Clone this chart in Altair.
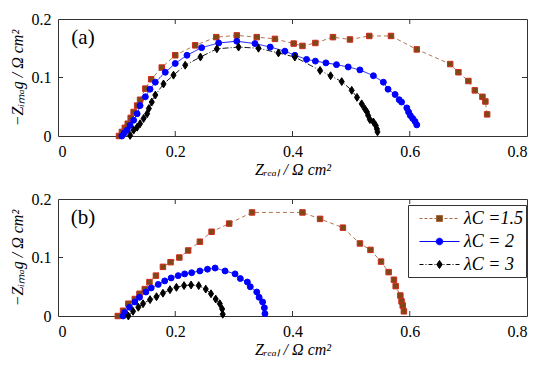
import altair as alt
import pandas as pd

# ---------------- data ----------------
series_names = ["λC =1.5", "λC = 2", "λC = 3"]

# panel (a)
a_sq_x = [0.104, 0.109, 0.114, 0.119, 0.124, 0.129, 0.135, 0.140, 0.149, 0.159, 0.177, 0.200, 0.234, 0.270, 0.305, 0.339,
          0.370, 0.402, 0.417, 0.439, 0.469, 0.498, 0.531, 0.568, 0.612, 0.669, 0.683, 0.700, 0.711, 0.724, 0.729, 0.732]
a_sq_y = [0.000, 0.007, 0.014, 0.021, 0.031, 0.041, 0.052, 0.062, 0.081, 0.097, 0.117, 0.138, 0.155, 0.169, 0.172, 0.169,
          0.166, 0.158, 0.154, 0.159, 0.169, 0.165, 0.171, 0.171, 0.148, 0.123, 0.109, 0.094, 0.078, 0.067, 0.059, 0.037]
a_ci_x = [0.109, 0.113, 0.118, 0.123, 0.129, 0.135, 0.140, 0.149, 0.157, 0.166, 0.183, 0.200, 0.220, 0.245, 0.274, 0.305,
          0.336, 0.362, 0.387, 0.404, 0.424, 0.439, 0.457, 0.475, 0.495, 0.515, 0.538, 0.555, 0.563, 0.575, 0.582, 0.586,
          0.595, 0.598, 0.601, 0.605, 0.609, 0.612]
a_ci_y = [0.000, 0.005, 0.010, 0.018, 0.027, 0.038, 0.052, 0.067, 0.080, 0.092, 0.109, 0.124, 0.138, 0.151, 0.159, 0.162,
          0.158, 0.152, 0.145, 0.138, 0.131, 0.128, 0.125, 0.122, 0.118, 0.113, 0.103, 0.092, 0.080, 0.071, 0.062, 0.058,
          0.048, 0.041, 0.035, 0.030, 0.025, 0.019]
a_di_x = [0.123, 0.129, 0.135, 0.140, 0.146, 0.152, 0.155, 0.160, 0.166, 0.180, 0.197, 0.217, 0.243, 0.271, 0.308, 0.342,
          0.376, 0.404, 0.447, 0.465, 0.484, 0.501, 0.510, 0.518, 0.523, 0.527, 0.529, 0.532, 0.538, 0.542, 0.544, 0.545]
a_di_y = [0.001, 0.010, 0.015, 0.021, 0.030, 0.038, 0.047, 0.058, 0.070, 0.089, 0.104, 0.121, 0.135, 0.149, 0.152, 0.150,
          0.142, 0.135, 0.112, 0.103, 0.093, 0.078, 0.066, 0.055, 0.047, 0.041, 0.035, 0.028, 0.024, 0.018, 0.012, 0.007]

# panel (b)
b_sq_x = [0.102, 0.111, 0.120, 0.131, 0.139, 0.148, 0.156, 0.167, 0.179, 0.192, 0.207, 0.222, 0.242, 0.262, 0.292, 0.331,
          0.417, 0.447, 0.486, 0.515, 0.533, 0.551, 0.564, 0.573, 0.576, 0.584, 0.586, 0.588, 0.590]
b_sq_y = [0.000, 0.009, 0.021, 0.029, 0.038, 0.046, 0.058, 0.069, 0.084, 0.092, 0.100, 0.112, 0.127, 0.144, 0.158, 0.177,
          0.177, 0.166, 0.151, 0.124, 0.113, 0.093, 0.075, 0.062, 0.051, 0.035, 0.025, 0.018, 0.008]
b_ci_x = [0.111, 0.114, 0.122, 0.131, 0.139, 0.150, 0.159, 0.171, 0.182, 0.193, 0.205, 0.216, 0.228, 0.242, 0.255, 0.268,
          0.285, 0.302, 0.311, 0.323, 0.328, 0.339, 0.343, 0.349, 0.352, 0.353]
b_ci_y = [0.000, 0.006, 0.015, 0.024, 0.032, 0.041, 0.048, 0.054, 0.060, 0.065, 0.069, 0.072, 0.074, 0.077, 0.080, 0.082,
          0.077, 0.072, 0.064, 0.058, 0.050, 0.041, 0.032, 0.024, 0.014, 0.004]
b_di_x = [0.120, 0.128, 0.137, 0.145, 0.157, 0.168, 0.179, 0.191, 0.202, 0.215, 0.227, 0.240, 0.252, 0.261, 0.269, 0.276,
          0.280, 0.281]
b_di_y = [0.000, 0.008, 0.015, 0.021, 0.028, 0.033, 0.039, 0.045, 0.049, 0.052, 0.053, 0.052, 0.046, 0.038, 0.029, 0.021,
          0.012, 0.003]

x_ticks = [0, 0.2, 0.4, 0.6, 0.8]
y_ticks = [0, 0.1, 0.2]
panel_labels = ["(a)", "(b)"]
x_title = "Zᵣₑₐₗ / Ω cm²"
y_title = "−Zᵢₘₐg / Ω cm²"

# ---------------- styling ----------------
FONT = "Liberation Serif"
line_colors = ["#a8673f", "#0000ff", "#000000"]
fill_colors = ["#7a4a14", "#0000ff", "#000000"]
edge_colors = ["#d02a1e", "#0000ff", "#000000"]
dashes = [[4, 3], [1, 0], [6, 2, 1, 2]]
DIAMOND = "M0,-1.25L0.8,0L0,1.25L-0.8,0Z"
point_shapes = ["square", "circle", DIAMOND]
point_sizes = [30, 40, 34]

UNIT = 10.0  # px per path unit for legend glyphs (symbolSize 400)


def seg_path(pattern, gap_half, half_len=2.0):
    """legend glyph line as dash subpaths from -half_len to half_len (units of UNIT px)"""
    parts = []
    pos = -half_len
    i = 0
    while pos < half_len:
        length = pattern[i % len(pattern)] / UNIT
        end = min(pos + length, half_len)
        if i % 2 == 0:
            a, b = pos, end
            if b <= -gap_half or a >= gap_half:
                parts.append(f"M{a:.3f},0H{b:.3f}")
            else:
                if a < -gap_half:
                    parts.append(f"M{a:.3f},0H{-gap_half:.3f}")
                if b > gap_half:
                    parts.append(f"M{gap_half:.3f},0H{b:.3f}")
        pos = end
        i += 1
    return "".join(parts)


leg_sq = seg_path([3, 2], 0.3) + "M-0.3,-0.3H0.3V0.3H-0.3Z"
leg_ci = "M-2,0H-0.33M0.33,0H2" + "M0.33,0A0.33,0.33,0,1,1,-0.33,0A0.33,0.33,0,1,1,0.33,0Z"
leg_di = seg_path([4, 2, 1, 2], 0.28) + "M0,-0.4L0.28,0L0,0.4L-0.28,0Z"
legend_shapes = [leg_sq, leg_ci, leg_di]

W, H = 469, 117


def make_df(xs_list, ys_list):
    rows = []
    for name, xs, ys in zip(series_names, xs_list, ys_list):
        for i, (xv, yv) in enumerate(zip(xs, ys)):
            rows.append({"series": name, "lg": name, "i": i, "x": xv, "y": yv})
    return pd.DataFrame(rows)


def axis(vals, title, tpad):
    return alt.Axis(
        values=vals, title=title, grid=False, domain=False, ticks=False,
        labelExpr="datum.value == 0 ? '0' : format(datum.value, '.1f')",
        labelFont=FONT, labelFontSize=16, labelColor="black", labelPadding=7,
        titleFont=FONT, titleFontSize=16, titleFontStyle="italic", titleFontWeight="normal",
        titleColor="black", titlePadding=tpad,
    )


def panel(df, label, show_legend):
    xsc = alt.Scale(domain=[0, 0.8], nice=False, zero=False)
    ysc = alt.Scale(domain=[0, 0.2], nice=False, zero=False)
    base = alt.Chart(df)
    enc_x = alt.X("x:Q", scale=xsc, axis=axis(x_ticks, x_title, 2))
    enc_y = alt.Y("y:Q", scale=ysc, axis=axis(y_ticks, y_title, 6))

    lines = base.mark_line(strokeWidth=0.9).encode(
        x=enc_x, y=enc_y, order="i:Q",
        color=alt.Color("series:N", scale=alt.Scale(domain=series_names, range=line_colors), legend=None),
        strokeDash=alt.StrokeDash("series:N", scale=alt.Scale(domain=series_names, range=dashes), legend=None),
    )
    points = base.mark_point(filled=True, opacity=1, strokeWidth=1).encode(
        x="x:Q", y="y:Q",
        shape=alt.Shape("series:N", scale=alt.Scale(domain=series_names, range=point_shapes), legend=None),
        fill=alt.Fill("series:N", scale=alt.Scale(domain=series_names, range=fill_colors), legend=None),
        stroke=alt.Stroke("series:N", scale=alt.Scale(domain=series_names, range=edge_colors), legend=None),
        size=alt.Size("series:N", scale=alt.Scale(domain=series_names, range=point_sizes), legend=None),
    )

    tick_x = pd.DataFrame({"v": x_ticks[1:-1]})
    tick_y = pd.DataFrame({"v": y_ticks[1:-1]})
    tb = alt.Chart(tick_x).mark_rule(color="#333", strokeWidth=1).encode(x="v:Q", y=alt.value(H), y2=alt.value(H - 5))
    tt = alt.Chart(tick_x).mark_rule(color="#333", strokeWidth=1).encode(x="v:Q", y=alt.value(0), y2=alt.value(5))
    tl = alt.Chart(tick_y).mark_rule(color="#333", strokeWidth=1).encode(y="v:Q", x=alt.value(0), x2=alt.value(5))
    tr = alt.Chart(tick_y).mark_rule(color="#333", strokeWidth=1).encode(y="v:Q", x=alt.value(W - 5), x2=alt.value(W))

    lab = alt.Chart(pd.DataFrame({"t": [label]})).mark_text(
        font=FONT, fontSize=21, align="center", baseline="middle", color="black"
    ).encode(text="t:N", x=alt.value(25), y=alt.value(19))

    layers = [lines, points, tb, tt, tl, tr, lab]
    if show_legend:
        lp = dict(orient="none", legendX=350, legendY=6, title=None, labelFont=FONT, labelFontSize=18,
                  labelFontStyle="italic", symbolSize=400, symbolStrokeWidth=1, symbolOpacity=1,
                  symbolOffset=18, strokeColor="#333", fillColor="white", padding=3, rowPadding=3,
                  labelOffset=14, labelLimit=200, labelColor="black")
        leg = alt.Chart(df).mark_point(opacity=0, filled=True).encode(
            x="x:Q", y="y:Q",
            shape=alt.Shape("lg:N", scale=alt.Scale(domain=series_names, range=legend_shapes), legend=alt.Legend(**lp)),
            fill=alt.Fill("lg:N", scale=alt.Scale(domain=series_names, range=fill_colors), legend=alt.Legend(**lp)),
            stroke=alt.Stroke("lg:N", scale=alt.Scale(domain=series_names, range=line_colors), legend=alt.Legend(**lp)),
        )
        layers.append(leg)
    ch = alt.layer(*layers).properties(width=W, height=H)
    if show_legend:
        ch = ch.resolve_scale(shape="independent", fill="independent", stroke="independent")
    return ch


df_a = make_df([a_sq_x, a_ci_x, a_di_x], [a_sq_y, a_ci_y, a_di_y])
df_b = make_df([b_sq_x, b_ci_x, b_di_x], [b_sq_y, b_ci_y, b_di_y])

chart = alt.vconcat(
    panel(df_a, panel_labels[0], False),
    panel(df_b, panel_labels[1], True),
    spacing=12,
).properties(
    padding={"left": 0, "top": 2, "right": 5, "bottom": 2}
).configure_view(
    stroke="#333", strokeWidth=1
)

chart.save("out.html", embed_options={"renderer": "svg", "actions": False})
